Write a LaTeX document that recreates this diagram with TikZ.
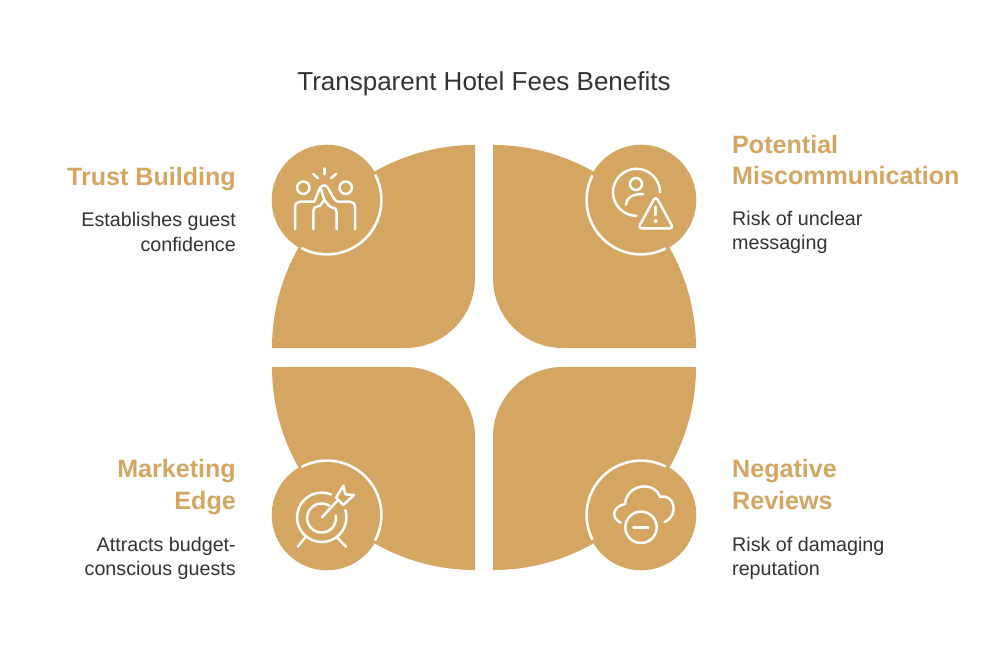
\documentclass[tikz,border=0pt]{standalone}
\usepackage{fontspec}
\setmainfont{Liberation Sans}
\definecolor{gold}{HTML}{D4A661}
\definecolor{ink}{HTML}{333333}
\tikzset{
	petal/.style={fill=gold,draw=none},
	badge/.style={fill=gold,draw=none},
	ring/.style={draw=white,line width=2.6pt},
	icon/.style={draw=white,line width=2.5pt,line cap=round,line join=round},
	heading/.style={inner sep=0pt,text=gold,font=\fontsize{25.1}{31.5}\selectfont\bfseries},
	note/.style={inner sep=0pt,text=ink,font=\fontsize{19.7}{24.2}\selectfont},
}
\begin{document}
\begin{tikzpicture}[x=1pt,y=-1pt]
			\useasboundingbox (0,0) rectangle (1000,652);
			\fill[white] (0,0) rectangle (1000,652);
			% four petals
			\fill[petal] (475,145) .. controls (363,145) and (272,236) .. (272,348)--(405,348) .. controls (444,348) and (475,317) .. (475,278)--cycle;
			\fill[petal] (493,145) .. controls (605,145) and (696,236) .. (696,348)--(563,348) .. controls (524,348) and (493,317) .. (493,278)--cycle;
			\fill[petal] (475,570) .. controls (363,570) and (272,479) .. (272,367)--(405,367) .. controls (444,367) and (475,398) .. (475,437)--cycle;
			\fill[petal] (493,570) .. controls (605,570) and (696,479) .. (696,367)--(563,367) .. controls (524,367) and (493,398) .. (493,437)--cycle;
			% badges
			\fill[badge] (327,200) circle (55.3);
			\fill[badge] (641,200) circle (55.3);
			\fill[badge] (327,515) circle (55.3);
			\fill[badge] (641,515) circle (55.3);
			\draw[ring] (327,200) ++(-28:54.4) arc[start angle=-28,end angle=118,radius=54.4];
			\draw[ring] (641,200) ++(63:54.4) arc[start angle=63,end angle=207,radius=54.4];
			\draw[ring] (327,515) ++(28:54.4) arc[start angle=28,end angle=-118,radius=54.4];
			\draw[ring] (641,515) ++(-63:54.4) arc[start angle=-63,end angle=-207,radius=54.4];
			% high five
			\draw[icon] (303.3,187.7) circle (6.2);
			\draw[icon] (345.7,187.7) circle (6.2);
			\draw[icon] (324.3,168.3)--(324.3,174.3);
			\draw[icon] (313.3,174)--(318,178.3);
			\draw[icon] (336,174)--(331,178.3);
			\draw[icon] (295,229.3)--(295,207.3) .. controls (295,204) and (297,201.7) .. (300,201.7)--(314.3,201.7)--(319,190) .. controls (320,186) and (325,183) .. (328,188)--(333,197) .. controls (335,200) and (336,201.7) .. (338,201.7)--(350,201.7) .. controls (353,201.7) and (355,204) .. (355,207.3)--(355,229.3);
			\draw[icon] (313.3,229.3)--(313.3,211) .. controls (313.3,208) and (315,206.7) .. (317,206.7) .. controls (320,206.7) and (322,203) .. (324.3,200) .. controls (327,203) and (329,206.7) .. (332,207.5) .. controls (335,208) and (336.7,209) .. (336.7,212)--(336.7,229.3);
			\draw[icon] (324.3,200)--(321,189);
			% person and warning
			\draw[icon] (636,184) circle (6);
			\draw[icon] (626,205) .. controls (626,198) and (632,194) .. (643,194);
			\draw[icon] (660,192.3) arc[start angle=0,end angle=-270,radius=23.5];
			\draw[icon,rounded corners=4pt] (655.7,196)--(638,228.5)--(673.5,228.5)--cycle;
			\draw[icon] (655.7,206.7)--(655.7,215);
			\fill[white] (655.7,221) circle (2);
			% target
			\draw[icon] (331,494.4) arc[start angle=-68,end angle=-377,radius=24.7];
			\draw[icon] (329.3,505.7) arc[start angle=-58,end angle=-370,radius=14.5];
			\draw[icon] (322,517.3)--(337,501);
			\draw[icon] (336,497.7)--(343.3,485.7)--(345.3,494.3)--(354,495)--(343.3,505)--cycle;
			\draw[icon] (305,537.7)--(297.7,546.7);
			\draw[icon] (337.3,537.7)--(346,546.7);
			% cloud and minus
			\draw[icon] (620.7,522.7) .. controls (612,519) and (611,507) .. (625,504) .. controls (627,483) and (655,481) .. (660,497) .. controls (674,493) and (680,515) .. (664.5,522);
			\draw[icon] (641,527.3) circle (15.7);
			\draw[icon] (633.3,527.3)--(648.3,527.3);
			% texts
			\node[inner sep=0pt,text=ink,font=\fontsize{26}{30}\selectfont] (title) at (484,84) {Transparent Hotel Fees Benefits};
			\node[heading,anchor=east,align=right] (trust) at (236,179) {Trust Building};
			\node[note,anchor=east,align=right] (trustnote) at (236,232) {Establishes guest\\confidence};
			\node[heading,anchor=west,align=left] (miscomm) at (732,160) {Potential\\Miscommunication};
			\node[note,anchor=west,align=left] (miscommnote) at (732,232.5) {Risk of unclear\\messaging};
			\node[heading,anchor=east,align=right] (marketing) at (236,487) {Marketing\\Edge};
			\node[note,anchor=east,align=right] (marketingnote) at (236,558.5) {Attracts budget-\\conscious guests};
			\node[heading,anchor=west,align=left] (reviews) at (732,484.5) {Negative\\Reviews};
			\node[note,anchor=west,align=left] (reviewsnote) at (732,558.5) {Risk of damaging\\reputation};
		\end{tikzpicture}
\end{document}
